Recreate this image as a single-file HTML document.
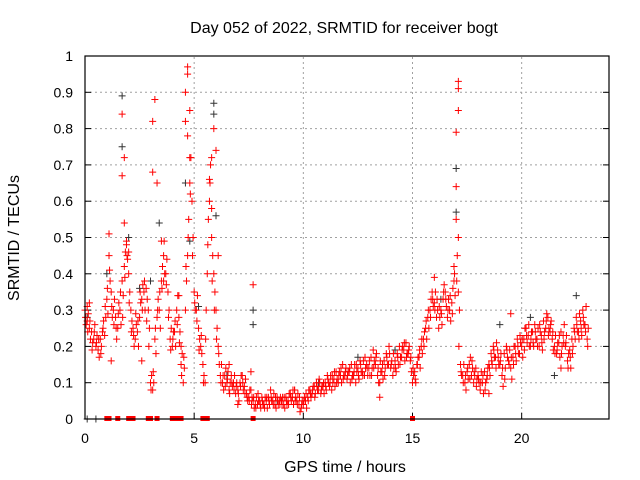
<!DOCTYPE html>
<html><head><meta charset="utf-8"><style>
body{margin:0;background:#fff;}
svg{display:block;font-family:"Liberation Sans",sans-serif;}
</style></head><body>
<svg id="c" width="640" height="480">
<text x="344" y="33" text-anchor="middle" font-size="16">Day 052 of 2022, SRMTID for receiver bogt</text>
<text transform="translate(19,238) rotate(-90)" text-anchor="middle" font-size="16">SRMTID / TECUs</text>
<text x="345" y="472" text-anchor="middle" font-size="16">GPS time / hours</text>
<g id="grid"></g><g id="marks"></g>
<rect x="85" y="56" width="524" height="363" fill="none" stroke="#000" stroke-width="1.2"/>
</svg>
<script>
const xTicks=[0,5,10,15,20];
const yTicks=[0,0.1,0.2,0.3,0.4,0.5,0.6,0.7,0.8,0.9,1];
const yTickLabels=["0","0.1","0.2","0.3","0.4","0.5","0.6","0.7","0.8","0.9","1"];
const redMain=[0.30,0.27,0.25,0.24,0.22,0.20,0.19,0.22,0.24,0.23,
0.33,0.45,0.35,0.30,0.28,0.25,0.30,0.38,0.42,0.48,
0.40,0.30,0.25,0.22,0.24,0.28,0.33,0.35,0.36,0.30,
0.10,0.08,0.22,0.28,0.30,0.38,0.45,0.40,0.35,0.22,
0.20,0.24,0.30,0.28,0.15,0.10,0.30,0.45,0.85,0.60,
0.35,0.30,0.25,0.20,0.15,0.10,0.40,0.60,0.50,0.40,
0.30,0.20,0.12,0.10,0.12,0.10,0.08,0.12,0.10,0.07,
0.08,0.10,0.12,0.09,0.07,0.06,0.08,0.05,0.04,0.04,
0.05,0.06,0.04,0.05,0.06,0.08,0.05,0.04,0.06,0.05,
0.05,0.04,0.06,0.05,0.07,0.06,0.08,0.05,0.04,0.03,
0.04,0.05,0.06,0.08,0.07,0.09,0.10,0.08,0.07,0.09,
0.10,0.12,0.09,0.08,0.11,0.13,0.10,0.12,0.15,0.12,
0.11,0.13,0.15,0.12,0.10,0.14,0.16,0.13,0.12,0.15,
0.14,0.17,0.19,0.15,0.12,0.10,0.13,0.16,0.18,0.15,
0.14,0.12,0.16,0.18,0.20,0.17,0.19,0.21,0.18,0.16,
0.10,0.13,0.15,0.17,0.20,0.22,0.25,0.28,0.30,0.35,
0.32,0.28,0.25,0.30,0.33,0.35,0.28,0.30,0.32,0.38,
0.55,0.35,0.15,0.12,0.10,0.13,0.15,0.12,0.10,0.14,
0.12,0.08,0.10,0.13,0.11,0.15,0.18,0.20,0.17,0.19,
0.15,0.12,0.18,0.20,0.16,0.14,0.17,0.20,0.22,0.18,
0.20,0.22,0.25,0.23,0.20,0.24,0.26,0.22,0.20,0.23,
0.27,0.25,0.28,0.24,0.22,0.20,0.18,0.21,0.24,0.23,
0.20,0.16,0.19,0.22,0.25,0.28,0.24,0.27,0.30,0.26,0.22];
const redSpread=[0.26,0.29,0.22,0.21,0.26,0.23,0.17,0.20,0.27,0.28,
0.29,0.38,0.28,0.33,0.22,0.32,0.26,0.34,0.46,0.44,
0.35,0.27,0.20,0.26,0.20,0.32,0.37,0.30,0.33,0.25,
0.12,0.10,0.18,0.33,0.25,0.42,0.40,0.44,0.30,0.25,
0.24,0.20,0.34,0.24,0.18,0.14,0.38,0.55,0.72,0.50,
0.30,0.34,0.22,0.18,0.12,0.30,0.55,0.70,0.45,0.35,
0.25,0.15,0.15,0.08,0.14,0.13,0.10,0.09,0.12,0.10,
0.05,0.12,0.08,0.11,0.05,0.08,0.06,0.03,0.06,0.05,
0.03,0.04,0.06,0.03,0.04,0.05,0.07,0.03,0.04,0.06,
0.06,0.03,0.04,0.07,0.05,0.04,0.06,0.07,0.02,0.05,
0.06,0.03,0.08,0.06,0.09,0.07,0.08,0.10,0.09,0.07,
0.08,0.10,0.12,0.10,0.09,0.11,0.13,0.10,0.12,0.14,
0.13,0.10,0.12,0.15,0.13,0.11,0.13,0.16,0.14,0.12,
0.12,0.14,0.16,0.18,0.10,0.13,0.11,0.14,0.15,0.18,
0.16,0.14,0.13,0.15,0.17,0.20,0.16,0.18,0.20,0.13,
0.12,0.10,0.17,0.14,0.18,0.24,0.22,0.25,0.33,0.31,
0.35,0.30,0.28,0.26,0.37,0.31,0.33,0.27,0.36,0.34,
0.45,0.30,0.12,0.15,0.08,0.11,0.17,0.14,0.12,0.11,
0.10,0.13,0.07,0.10,0.14,0.12,0.15,0.17,0.21,0.15,
0.18,0.09,0.14,0.17,0.19,0.11,0.20,0.16,0.18,0.21,
0.17,0.25,0.21,0.20,0.24,0.20,0.22,0.25,0.24,0.19,
0.24,0.29,0.25,0.27,0.19,0.23,0.21,0.17,0.20,0.26,
0.23,0.18,0.14,0.20,0.22,0.24,0.29,0.23,0.26,0.31,0.25];
const redExtra=[0.28,0.24,0.27,0.19,0.24,0.21,0.22,0.18,0.25,0.31,
0.36,0.41,0.31,0.26,0.25,0.29,0.35,0.28,0.39,0.45,
0.32,0.24,0.23,0.29,0.27,0.35,0.30,0.38,0.27,0.20,
0.08,0.13,0.25,0.30,0.35,0.36,0.49,0.37,0.28,0.19,
0.22,0.27,0.26,0.21,0.12,0.17,0.42,0.50,0.62,0.45,
0.32,0.27,0.19,0.23,0.10,0.22,0.48,0.65,0.38,0.30,
0.22,0.18,0.10,0.12,0.09,0.11,0.07,0.10,0.08,0.09,
0.07,0.09,0.10,0.07,0.06,0.05,0.04,0.06,0.03,0.07,
0.04,0.05,0.03,0.06,0.05,0.06,0.04,0.06,0.05,0.04,
0.04,0.06,0.05,0.04,0.06,0.08,0.05,0.04,0.06,0.04,
0.05,0.07,0.05,0.07,0.08,0.06,0.09,0.11,0.08,0.10,
0.09,0.11,0.10,0.12,0.13,0.10,0.12,0.14,0.11,0.13,
0.12,0.14,0.11,0.13,0.15,0.12,0.15,0.12,0.17,0.14,
0.16,0.12,0.14,0.17,0.14,0.16,0.15,0.12,0.17,0.20,
0.15,0.18,0.14,0.17,0.15,0.19,0.21,0.17,0.19,0.17,
0.14,0.11,0.15,0.19,0.22,0.20,0.27,0.30,0.28,0.33,
0.30,0.33,0.31,0.29,0.35,0.33,0.30,0.34,0.29,0.40,
0.38,0.20,0.13,0.10,0.12,0.14,0.11,0.16,0.13,0.09,
0.11,0.10,0.12,0.08,0.12,0.14,0.16,0.19,0.14,0.17,
0.16,0.14,0.11,0.19,0.15,0.17,0.15,0.18,0.20,0.23,
0.22,0.19,0.23,0.26,0.22,0.21,0.24,0.20,0.26,0.21,
0.22,0.27,0.23,0.26,0.24,0.18,0.19,0.23,0.18,0.21,
0.21,0.14,0.17,0.18,0.24,0.26,0.22,0.25,0.28,0.24,0.20];
const redOutT=[1.7,1.7,1.8,1.8,1.1,3.1,3.1,3.2,3.3,3.5,4.7,4.7,4.6,4.6,4.7,4.8,4.8,5.8,5.9,6.0,5.7,5.8,6.1,7.7,17.1,17.1,17.1,17.0,17.0,17.1,16.9,16.0,4.4,4.3,1.9,2.0,3.6,0.1,0.2,1.2,2.6,6.6,7.0,7.6,9.6,13.5,18.5,19.5,21.8];
const redOutV=[0.84,0.67,0.72,0.54,0.51,0.82,0.68,0.88,0.65,0.49,0.97,0.95,0.90,0.82,0.78,0.72,0.65,0.72,0.80,0.74,0.66,0.58,0.45,0.37,0.93,0.91,0.85,0.79,0.64,0.50,0.42,0.39,0.20,0.34,0.49,0.46,0.38,0.31,0.32,0.16,0.16,0.15,0.04,0.13,0.08,0.06,0.07,0.29,0.14];
const redZeroT=[1.0,1.1,1.5,2.0,2.2,2.9,3.0,3.3,4.0,4.1,4.3,4.4,5.4,5.5,5.6,7.7,15.0];
const blackT=[1.7,1.7,5.9,5.9,4.6,3.4,17.0,17.0,4.8,1.0,2.0,7.7,7.7,6.0,0.1,22.5,21.5,19.0,0.1,0.5,3.0,16.3,20.4,12.5,10.7,8.8,14.2,2.5,5.2,6.5];
const blackV=[0.89,0.75,0.87,0.84,0.65,0.54,0.69,0.57,0.49,0.40,0.50,0.30,0.26,0.56,0.28,0.34,0.12,0.26,0,0,0.38,0.33,0.28,0.17,0.10,0.05,0.19,0.36,0.31,0.12];
const X0=85,X1=609,Y0=419,Y1=56,XMAX=24;
const xs=t=>X0+t/XMAX*(X1-X0), ys=v=>Y0-v*(Y0-Y1);
const NS="http://www.w3.org/2000/svg";
const grid=document.getElementById('grid'),marks=document.getElementById('marks');
function mk(tag,a,p){const e=document.createElementNS(NS,tag);for(const k in a)e.setAttribute(k,a[k]);p.appendChild(e);return e;}
xTicks.forEach(t=>{const x=xs(t);
 if(t>0){const g=mk('line',{x1:x,x2:x,y1:Y0,y2:Y1,stroke:'#a0a0a0','stroke-dasharray':'2,3'},grid);
 
 }
 const tk=mk('line',{x1:x,x2:x,y1:Y0,y2:Y0-6,stroke:'#000'},grid);
 
 
 const l=mk('text',{x:x,y:443,'text-anchor':'middle','font-size':'14'},grid);l.textContent=t;
 
 });
yTicks.forEach((v,i)=>{const y=ys(v);
 if(v>0&&v<1){const g=mk('line',{x1:X0,x2:X1,y1:y,y2:y,stroke:'#a0a0a0','stroke-dasharray':'2,3'},grid);
 
 }
 mk('line',{x1:X0,x2:X0+6,y1:y,y2:y,stroke:'#000'},grid);
 mk('line',{x1:X1,x2:X1-6,y1:y,y2:y,stroke:'#000'},grid);
 const l=mk('text',{x:73,y:y+5,'text-anchor':'end','font-size':'14'},grid);l.textContent=yTickLabels[i];
 
 });
function plus(t,v,col){const x=xs(t),y=ys(v);
 const p=mk('path',{d:`M${x-3.5},${y}H${x+3.5}M${x},${y-3.5}V${y+3.5}`,stroke:col,'stroke-width':'1',fill:'none'},marks);
 
 }
blackT.forEach((t,i)=>plus(t,blackV[i],'#333'));
redMain.forEach((v,i)=>plus(i/10,v,'#f00'));
redSpread.forEach((v,i)=>plus(i/10+0.05,v,'#f00'));
redExtra.forEach((v,i)=>plus(i/10+0.025,v,'#f00'));
redOutT.forEach((t,i)=>plus(t,redOutV[i],'#f00'));
redZeroT.forEach(t=>{const r=mk('rect',{x:xs(t)-2.5,y:Y0-3,width:5,height:5,fill:'#f00'},marks);
 
 });
</script>
</body></html>
